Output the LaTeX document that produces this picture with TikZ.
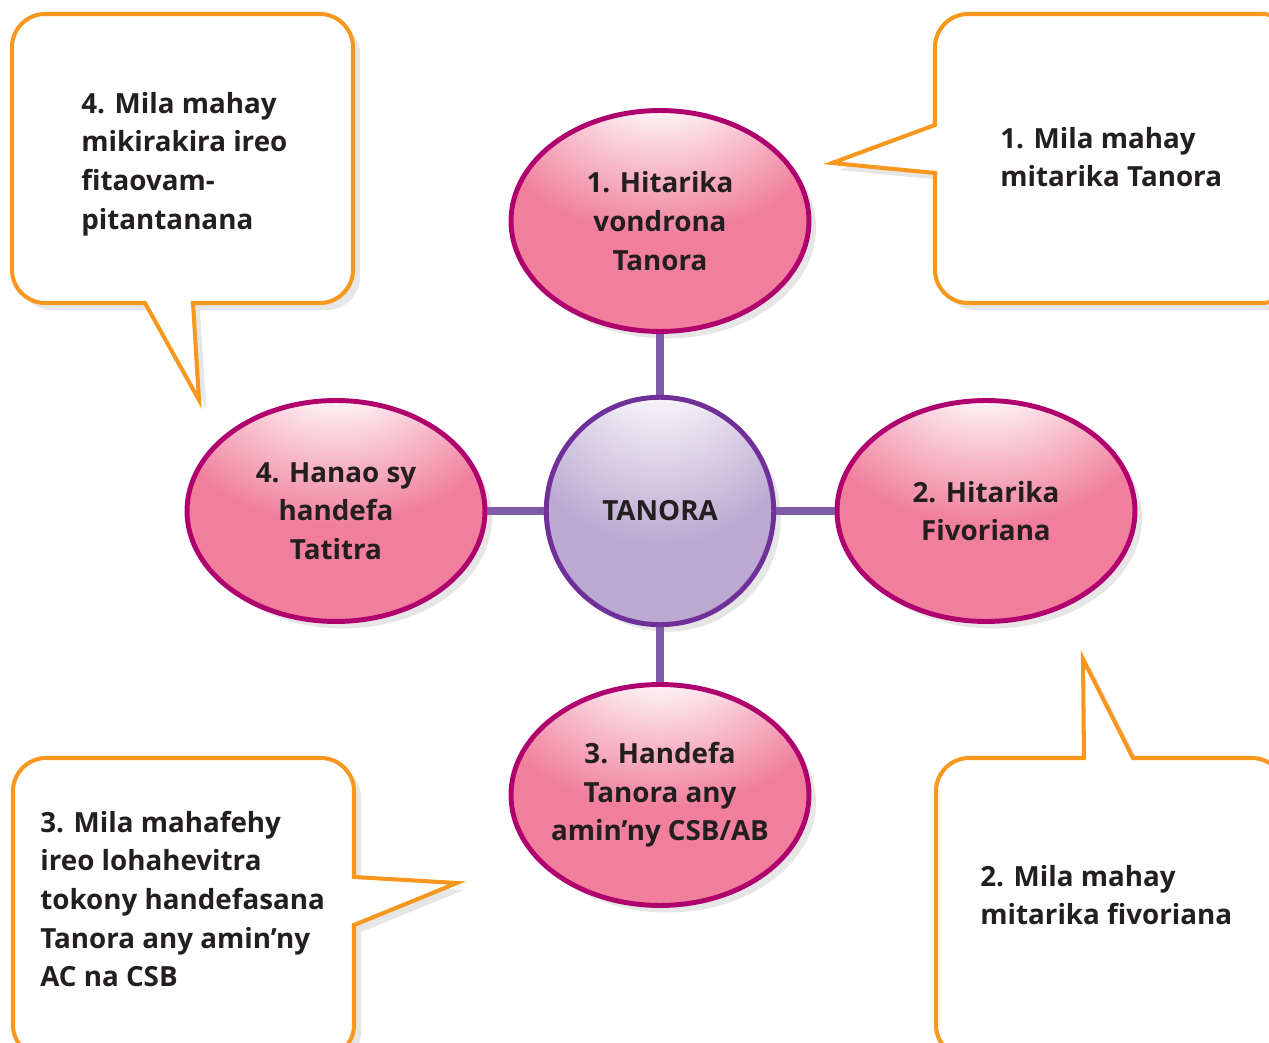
\documentclass[tikz,border=0pt]{standalone}
\usepackage{fontspec}
\setmainfont{Open Sans}[BoldFont={Open Sans Bold}]
\usetikzlibrary{shapes.geometric,shadows}

\definecolor{calloutorange}{HTML}{F7971E}
\definecolor{bubbleedge}{HTML}{B0006D}
\definecolor{bubblepink}{HTML}{F07E9C}
\definecolor{hubedge}{HTML}{70309A}
\definecolor{hubfill}{HTML}{BBA9D1}
\definecolor{linkpurple}{HTML}{7D5BA6}
\definecolor{inkblack}{HTML}{231F20}

% soft highlight near the top of the bubbles
\pgfdeclareradialshading{pinkglow}{\pgfpoint{0bp}{38bp}}{color(0bp)=(white); color(7bp)=(white); color(30bp)=(bubblepink); color(100bp)=(bubblepink)}
\pgfdeclareradialshading{lilacglow}{\pgfpoint{0bp}{40bp}}{color(0bp)=(white); color(7bp)=(white); color(34bp)=(hubfill); color(100bp)=(hubfill)}

\begin{document}
\begin{tikzpicture}[x=0.02cm,y=-0.02cm,
    font=\fontsize{15.8}{22}\selectfont\bfseries, text=inkblack,
    softshadow/.style={drop shadow={opacity=0.2, shadow xshift=4pt, shadow yshift=-4pt}},
    callout/.style={draw=calloutorange, line width=2.3pt, fill=white, softshadow},
    bubble/.style={ellipse, draw=bubbleedge, line width=2.8pt, shading=pinkglow,
      minimum width=5.96cm, minimum height=4.42cm, inner sep=0pt, softshadow},
    hub/.style={circle, draw=hubedge, line width=2.8pt, shading=lilacglow,
      minimum size=4.55cm, inner sep=0pt, softshadow},
    word/.style={align=center, inner sep=0pt},
    note/.style={align=left, anchor=west, inner sep=0pt},
    link/.style={draw=linkpurple, line width=5pt}]
  \useasboundingbox (0,0) rectangle (1269,1043);
  \clip (0,0) rectangle (1269,1043);

  % callouts
  \draw[callout] (12,47) .. controls (12,29) and (27,14) .. (45,14)
    -- (320,14) .. controls (338,14) and (353,29) .. (353,47)
    -- (353,270) .. controls (353,288) and (338,303) .. (320,303)
    -- (193,303) -- (199,400) -- (145,303)
    -- (45,303) .. controls (27,303) and (12,288) .. (12,270) -- cycle;
  \draw[callout] (935,47) .. controls (935,29) and (950,14) .. (968,14)
    -- (1262,14) .. controls (1280,14) and (1295,29) .. (1295,47)
    -- (1295,270) .. controls (1295,288) and (1280,303) .. (1262,303)
    -- (968,303) .. controls (950,303) and (935,288) .. (935,270)
    -- (935,173) -- (832,163) -- (935,125) -- cycle;
  \draw[callout] (13,791) .. controls (13,773) and (28,758) .. (46,758)
    -- (321,758) .. controls (339,758) and (354,773) .. (354,791)
    -- (354,877) -- (457,883) -- (354,925)
    -- (354,1025) .. controls (354,1043) and (339,1058) .. (321,1058)
    -- (46,1058) .. controls (28,1058) and (13,1043) .. (13,1025) -- cycle;
  \draw[callout] (936,791) .. controls (936,773) and (951,758) .. (969,758)
    -- (1084,758) -- (1083,659) -- (1133,758)
    -- (1252,758) .. controls (1270,758) and (1285,773) .. (1285,791)
    -- (1285,1025) .. controls (1285,1043) and (1270,1058) .. (1252,1058)
    -- (969,1058) .. controls (951,1058) and (936,1043) .. (936,1025) -- cycle;

  \node[note] (t4) at (81,164) {4. Mila mahay\\mikirakira ireo\\fitaovam-\\pitantanana};
  \node[note] (t1) at (1000,157) {1. Mila mahay\\mitarika Tanora};
  \node[note] (t3) at (40,899) {3. Mila mahafehy\\ireo lohahevitra\\tokony handefasana\\Tanora any amin’ny\\AC na CSB};
  \node[note] (t2) at (980,895) {2. Mila mahay\\mitarika fivoriana};

  % hub and bubbles
  \node[hub] (hub) at (660,511) {};
  \node[bubble] (n1) at (660,221) {};
  \node[bubble] (n2) at (986,511) {};
  \node[bubble] (n3) at (660,795) {};
  \node[bubble] (n4) at (336,511) {};

  \draw[link] (hub) -- (n1);
  \draw[link] (hub) -- (n2);
  \draw[link] (hub) -- (n3);
  \draw[link] (hub) -- (n4);

  \node[word] (w0) at (hub) {TANORA};
  \node[word] (w1) at (n1) {1. Hitarika\\vondrona\\Tanora};
  \node[word] (w2) at (n2) {2. Hitarika\\Fivoriana};
  \node[word] (w3) at (n3) {3. Handefa\\Tanora any\\amin’ny CSB/AB};
  \node[word] (w4) at (n4) {4. Hanao sy\\handefa\\Tatitra};
\end{tikzpicture}
\end{document}
